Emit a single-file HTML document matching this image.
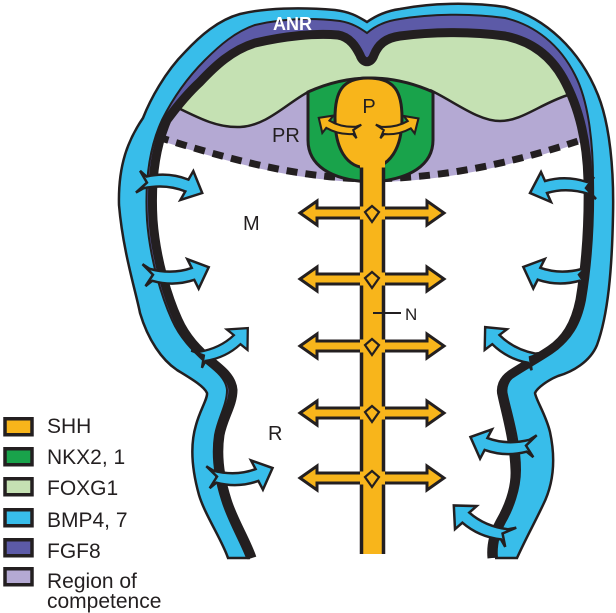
<!DOCTYPE html>
<html><head><meta charset="utf-8"><style>
html,body{margin:0;padding:0;background:#fff;}
svg{display:block;}
text{font-family:"Liberation Sans",Arial,sans-serif;fill:#231f20;}
</style></head><body>
<svg width="616" height="613" viewBox="0 0 616 613" xmlns="http://www.w3.org/2000/svg">
<defs>
<path id="arr" d="M-2,-11 L5,-6 Q26,-13 47,-7 L51,-16 L62,5 L41,14 L45,5 Q25,-1 3,6 L-4,11 L6,0 Z"/>
<clipPath id="inner"><path d="M252,558 C246,540 233,520 227,500 C220,478 217,455 220,435 C223,418 233,405 233,390 C232,378 222,370 212,362 C198,350 186,338 178,320 C168,298 156,260 153,220 C151,185 154,150 167,120 C178,105 188,93 200,82 C215,66 232,50 255,43 C285,36 315,33 338,35 C350,37 356,47 360,55 C363,64 371,64 374,55 C378,45 385,38 400,36 C430,32 470,31 505,36 C530,41 550,55 563,78 C578,105 587,140 588,180 C589,230 585,270 580,300 C575,325 565,340 550,350 C535,360 520,368 510,375 C503,380 500,388 502,395 C505,410 514,440 515,470 C516,490 507,510 500,522 C493,535 491,548 492,558 Z"/></clipPath>
</defs>

<!-- blue outer band -->
<path fill="#38bdea" d="M228,558 C222,540 205,515 199,495 C192,470 190,445 196,425 C200,410 208,398 207,393 C204,386 190,378 177,370 C162,360 148,340 140,313 C136,292 123,252 119,205 C118,165 128,140 143,118 C150,100 165,72 185,52 C200,36 218,20 240,14 C265,8 300,7 335,10 C352,12 360,18 367,22 C374,17 385,11 400,9 C430,3 470,2 505,7 C545,17 580,50 598,95 C610,125 614,170 613,215 C612,270 608,315 597,345 C590,362 572,372 558,376 C548,380 537,388 535,393 C536,400 546,415 550,432 C556,460 553,485 543,505 C535,522 525,540 517,558 Z"/>
<!-- FGF8 purple -->
<path fill="#5c5aa7" d="M247,558 C240,540 228,520 222,500 C215,478 212,455 215,435 C218,418 227,405 227,390 C226,378 215,370 205,362 C192,350 180,338 172,320 C162,298 150,260 147,220 C145,185 148,150 162,120 C172,100 185,80 205,60 C220,45 235,32 255,25 C285,18 315,18 340,21 C352,23 360,28 367,33 C375,26 385,21 400,19 C430,14 470,13 505,18 C535,25 560,45 575,75 C588,100 593,140 593,180 C594,230 590,270 585,300 C580,325 570,340 555,350 C540,360 525,368 515,375 C508,380 505,388 507,395 C510,410 520,440 520,470 C520,490 512,510 505,522 C498,535 496,548 497,558 Z"/>
<!-- interior -->
<path fill="#ffffff" d="M252,558 C246,540 233,520 227,500 C220,478 217,455 220,435 C223,418 233,405 233,390 C232,378 222,370 212,362 C198,350 186,338 178,320 C168,298 156,260 153,220 C151,185 154,150 167,120 C178,105 188,93 200,82 C215,66 232,50 255,43 C285,36 315,33 338,35 C350,37 356,47 360,55 C363,64 371,64 374,55 C378,45 385,38 400,36 C430,32 470,31 505,36 C530,41 550,55 563,78 C578,105 587,140 588,180 C589,230 585,270 580,300 C575,325 565,340 550,350 C535,360 520,368 510,375 C503,380 500,388 502,395 C505,410 514,440 515,470 C516,490 507,510 500,522 C493,535 491,548 492,558 Z"/>

<g clip-path="url(#inner)">
  <path fill="#b4a9d3" d="M100,0 L100,140 L155,139 C225,161 295,182 370,182 C445,182 515,166 590,139 L640,139 L640,0 Z"/>
  <path fill="none" stroke="#231f20" stroke-width="7" stroke-dasharray="11 8" d="M158,137 C225,158 295,178 370,179 C445,178 515,163 590,137"/>
  <path fill="#c5e1b3" d="M100,0 L100,104 L170,104 C195,116 215,128 240,127 C268,126 290,100 312,90 L430,90 C455,102 478,121 500,121 C522,121 540,104 566,96 L640,96 L640,0 Z"/>
  <path fill="none" stroke="#231f20" stroke-width="2.5" d="M168,103 C195,116 215,128 240,127 C268,126 290,100 312,90"/>
  <path fill="none" stroke="#231f20" stroke-width="2.5" d="M430,90 C455,102 478,121 500,121 C522,121 540,104 568,95"/>
</g>

<!-- inner black line -->
<path fill="none" stroke="#231f20" stroke-width="9" d="M252,558 C246,540 233,520 227,500 C220,478 217,455 220,435 C223,418 233,405 233,390 C232,378 222,370 212,362 C198,350 186,338 178,320 C168,298 156,260 153,220 C151,185 154,150 167,120 C178,105 188,93 200,82 C215,66 232,50 255,43 C285,36 315,33 338,35 C350,37 356,47 360,55 C363,64 371,64 374,55 C378,45 385,38 400,36 C430,32 470,31 505,36 C530,41 550,55 563,78 C578,105 587,140 588,180 C589,230 585,270 580,300 C575,325 565,340 550,350 C535,360 520,368 510,375 C503,380 500,388 502,395 C505,410 514,440 515,470 C516,490 507,510 500,522 C493,535 491,548 492,558"/>
<!-- outlines -->
<path fill="none" stroke="#231f20" stroke-width="2.5" d="M228,558 C222,540 205,515 199,495 C192,470 190,445 196,425 C200,410 208,398 207,393 C204,386 190,378 177,370 C162,360 148,340 140,313 C136,292 123,252 119,205 C118,165 128,140 143,118 C150,100 165,72 185,52 C200,36 218,20 240,14 C265,8 300,7 335,10 C352,12 360,18 367,22 C374,17 385,11 400,9 C430,3 470,2 505,7 C545,17 580,50 598,95 C610,125 614,170 613,215 C612,270 608,315 597,345 C590,362 572,372 558,376 C548,380 537,388 535,393 C536,400 546,415 550,432 C556,460 553,485 543,505 C535,522 525,540 517,558"/>
<path fill="none" stroke="#231f20" stroke-width="2" d="M247,558 C240,540 228,520 222,500 C215,478 212,455 215,435 C218,418 227,405 227,390 C226,378 215,370 205,362 C192,350 180,338 172,320 C162,298 150,260 147,220 C145,185 148,150 162,120 C172,100 185,80 205,60 C220,45 235,32 255,25 C285,18 315,18 340,21 C352,23 360,28 367,33 C375,26 385,21 400,19 C430,14 470,13 505,18 C535,25 560,45 575,75 C588,100 593,140 593,180 C594,230 590,270 585,300 C580,325 570,340 555,350 C540,360 525,368 515,375 C508,380 505,388 507,395 C510,410 520,440 520,470 C520,490 512,510 505,522 C498,535 496,548 497,558"/>
<path stroke="#231f20" stroke-width="2.5" d="M227,558 L250,558 M495,558 L518,558"/>

<!-- ANR -->
<text x="273" y="30" font-size="18" font-weight="bold" style="fill:#ffffff">ANR</text>

<!-- NKX2.1 -->
<path fill="#19a34b" stroke="#231f20" stroke-width="3" d="M308,92 Q370,64 433,92 L433,140 C433,165 410,180 370,182 C330,180 308,165 308,140 Z"/>
<!-- P -->
<path fill="#f8b51b" stroke="#231f20" stroke-width="3" d="M368,78 C395,78 402,92 402,118 C402,148 390,168 368,168 C346,168 335,148 335,118 C335,92 342,78 368,78 Z"/>
<use href="#arr" fill="#f8b51b" stroke="#231f20" stroke-width="3.2" transform="translate(357,131) rotate(14.3) scale(-0.65,-0.65)"/>
<use href="#arr" fill="#f8b51b" stroke="#231f20" stroke-width="3.2" transform="translate(380,131) rotate(-13.4) scale(0.65,-0.65)"/>
<text x="369" y="113" font-size="20" text-anchor="middle">P</text>

<!-- horizontal double arrows -->
<g fill="#f8b51b" stroke="#231f20" stroke-width="3" stroke-linejoin="miter">
<path d="M300,213 L317,201 L317,208 L427,208 L427,201 L444,213 L427,225 L427,218 L317,218 L317,225 Z"/>
<path d="M300,279 L317,267 L317,274 L427,274 L427,267 L444,279 L427,291 L427,284 L317,284 L317,291 Z"/>
<path d="M300,346 L317,334 L317,341 L427,341 L427,334 L444,346 L427,358 L427,351 L317,351 L317,358 Z"/>
<path d="M300,413 L317,401 L317,408 L427,408 L427,401 L444,413 L427,425 L427,418 L317,418 L317,425 Z"/>
<path d="M300,478 L317,466 L317,473 L427,473 L427,466 L444,478 L427,490 L427,483 L317,483 L317,490 Z"/>
</g>
<!-- neural tube bar -->
<rect x="360" y="160" width="25" height="394" fill="#f8b51b"/>
<path stroke="#231f20" stroke-width="3.5" d="M361.5,167.5 L361.5,206.5 M383.5,167.5 L383.5,206.5 M361.5,219.5 L361.5,272.5 M383.5,219.5 L383.5,272.5 M361.5,285.5 L361.5,339.5 M383.5,285.5 L383.5,339.5 M361.5,352.5 L361.5,406.5 M383.5,352.5 L383.5,406.5 M361.5,419.5 L361.5,471.5 M383.5,419.5 L383.5,471.5 M361.5,484.5 L361.5,554 M383.5,484.5 L383.5,554"/>
<g fill="#f8b51b" stroke="#231f20" stroke-width="2.2">
<path d="M372,206 L379,212 L372,222 L365,212 Z"/>
<path d="M372,272 L379,278 L372,288 L365,278 Z"/>
<path d="M372,339 L379,345 L372,355 L365,345 Z"/>
<path d="M372,406 L379,412 L372,422 L365,412 Z"/>
<path d="M372,471 L379,477 L372,487 L365,477 Z"/>
</g>
<path stroke="#231f20" stroke-width="2" d="M373,313 L401,313"/>
<text x="405" y="320" font-size="17">N</text>

<!-- blue arrows -->
<g fill="#38bdea" stroke="#231f20" stroke-width="2.5" stroke-linejoin="miter">
<use href="#arr" transform="translate(141,182) rotate(5.6)"/>
<use href="#arr" transform="translate(147,275) rotate(-2.6) scale(1,-1)"/>
<use href="#arr" transform="translate(199,358) rotate(-26.9) scale(0.92,-0.92)"/>
<use href="#arr" transform="translate(211,477) rotate(-3.7) scale(1,-1)"/>
<use href="#arr" transform="translate(592,188) scale(-1,1)"/>
<use href="#arr" transform="translate(585,275) rotate(2.8) scale(-1,-1)"/>
<use href="#arr" transform="translate(535,360) rotate(28.8) scale(-0.96,-0.96)"/>
<use href="#arr" transform="translate(532,446) rotate(3.7) scale(-1,-1)"/>
<use href="#arr" transform="translate(508,536) rotate(24.8) scale(-1,-1)"/>
</g>

<!-- labels -->
<text x="272" y="142" font-size="20">PR</text>
<text x="243" y="230" font-size="20">M</text>
<text x="268" y="440" font-size="20">R</text>

<!-- legend -->
<g stroke="#231f20" stroke-width="3.5">
<rect x="5" y="418.75" width="27" height="16" fill="#f8b51b"/>
<rect x="5" y="448.75" width="27" height="16" fill="#19a34b"/>
<rect x="5" y="478.75" width="27" height="16" fill="#c5e1b3"/>
<rect x="5" y="509.75" width="27" height="16" fill="#38bdea"/>
<rect x="5" y="539.75" width="27" height="16" fill="#5c5aa7"/>
<rect x="5" y="568.75" width="27" height="16" fill="#b4a9d3"/>
</g>
<g font-size="21">
<text x="47" y="433">SHH</text>
<text x="47" y="464">NKX2, 1</text>
<text x="47" y="495">FOXG1</text>
<text x="47" y="527">BMP4, 7</text>
<text x="47" y="558">FGF8</text>
<text x="47" y="588">Region of</text>
<text x="47" y="608">competence</text>
</g>
</svg>
</body></html>
